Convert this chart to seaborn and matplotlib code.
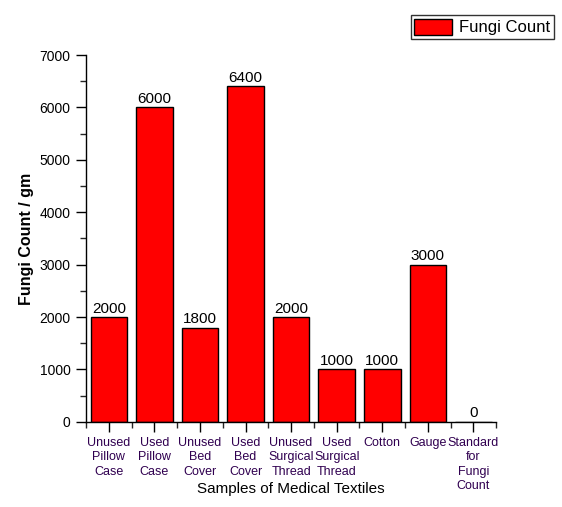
import numpy as np
import pandas as pd
import matplotlib
matplotlib.use("Agg")
import matplotlib.pyplot as plt
import seaborn as sns
from matplotlib.patches import Patch
from matplotlib.ticker import MultipleLocator

samples = ["Unused\nPillow\nCase", "Used\nPillow\nCase", "Unused\nBed\nCover", "Used\nBed\nCover",
           "Unused\nSurgical\nThread", "Used\nSurgical\nThread", "Cotton", "Gauge",
           "Standard\nfor\nFungi\nCount"]
fungi_count = [2000, 6000, 1800, 6400, 2000, 1000, 1000, 3000, 0]

df = pd.DataFrame({"sample": samples, "count": fungi_count})

sns.set_style("white")
plt.rcParams['font.family'] = ['Liberation Sans', 'DejaVu Sans']
plt.rcParams['text.color'] = 'black'
plt.rcParams['axes.labelcolor'] = 'black'

fig = plt.figure(figsize=(5.62, 5.07), dpi=100)
ax = fig.add_axes([0.153, 0.168, 0.73, 0.7235])

sns.barplot(data=df, x="sample", y="count", color="#ff0000", edgecolor="black",
            linewidth=1.0, width=0.8, saturation=1, ax=ax)

ax.bar_label(ax.containers[0], labels=[str(v) for v in fungi_count], fontsize=11,
             padding=1, color="black")

ax.set_xlim(-0.5, 8.5)
ax.set_ylim(0, 7000)
ax.yaxis.set_major_locator(MultipleLocator(1000))
ax.yaxis.set_minor_locator(MultipleLocator(500))
ax.set_xticks(np.arange(-0.5, 9, 1), minor=True)
ax.tick_params(axis="both", which="major", direction="out", length=7, width=1,
               colors="black", bottom=True, left=True)
ax.tick_params(axis="both", which="minor", direction="out", length=4, width=1,
               bottom=True, left=True)
ax.tick_params(axis="y", labelsize=10, pad=4)
ax.tick_params(axis="x", labelsize=9, labelcolor="#300050", pad=4)
for lab in ax.get_xticklabels():
    lab.set_linespacing(1.25)

sns.despine(ax=ax)
for s in ["left", "bottom"]:
    ax.spines[s].set_color("black")
    ax.spines[s].set_linewidth(1)

ax.set_xlabel("Samples of Medical Textiles", fontsize=11)
ax.xaxis.set_label_coords(0.5, -0.163)
ax.set_ylabel("Fungi Count / gm", fontsize=11.5, fontweight="bold", labelpad=4)

handle = Patch(facecolor="#ff0000", edgecolor="black", linewidth=1)
leg = fig.legend([handle], ["Fungi Count"], loc="upper right", bbox_to_anchor=(0.985, 0.97),
                 fontsize=12, frameon=True, fancybox=False, handlelength=2.3, handleheight=1.1,
                 borderpad=0.2, handletextpad=0.4, borderaxespad=0)
leg.get_frame().set_edgecolor("black")
leg.get_frame().set_linewidth(1)

fig.savefig("out.png", dpi=100)
